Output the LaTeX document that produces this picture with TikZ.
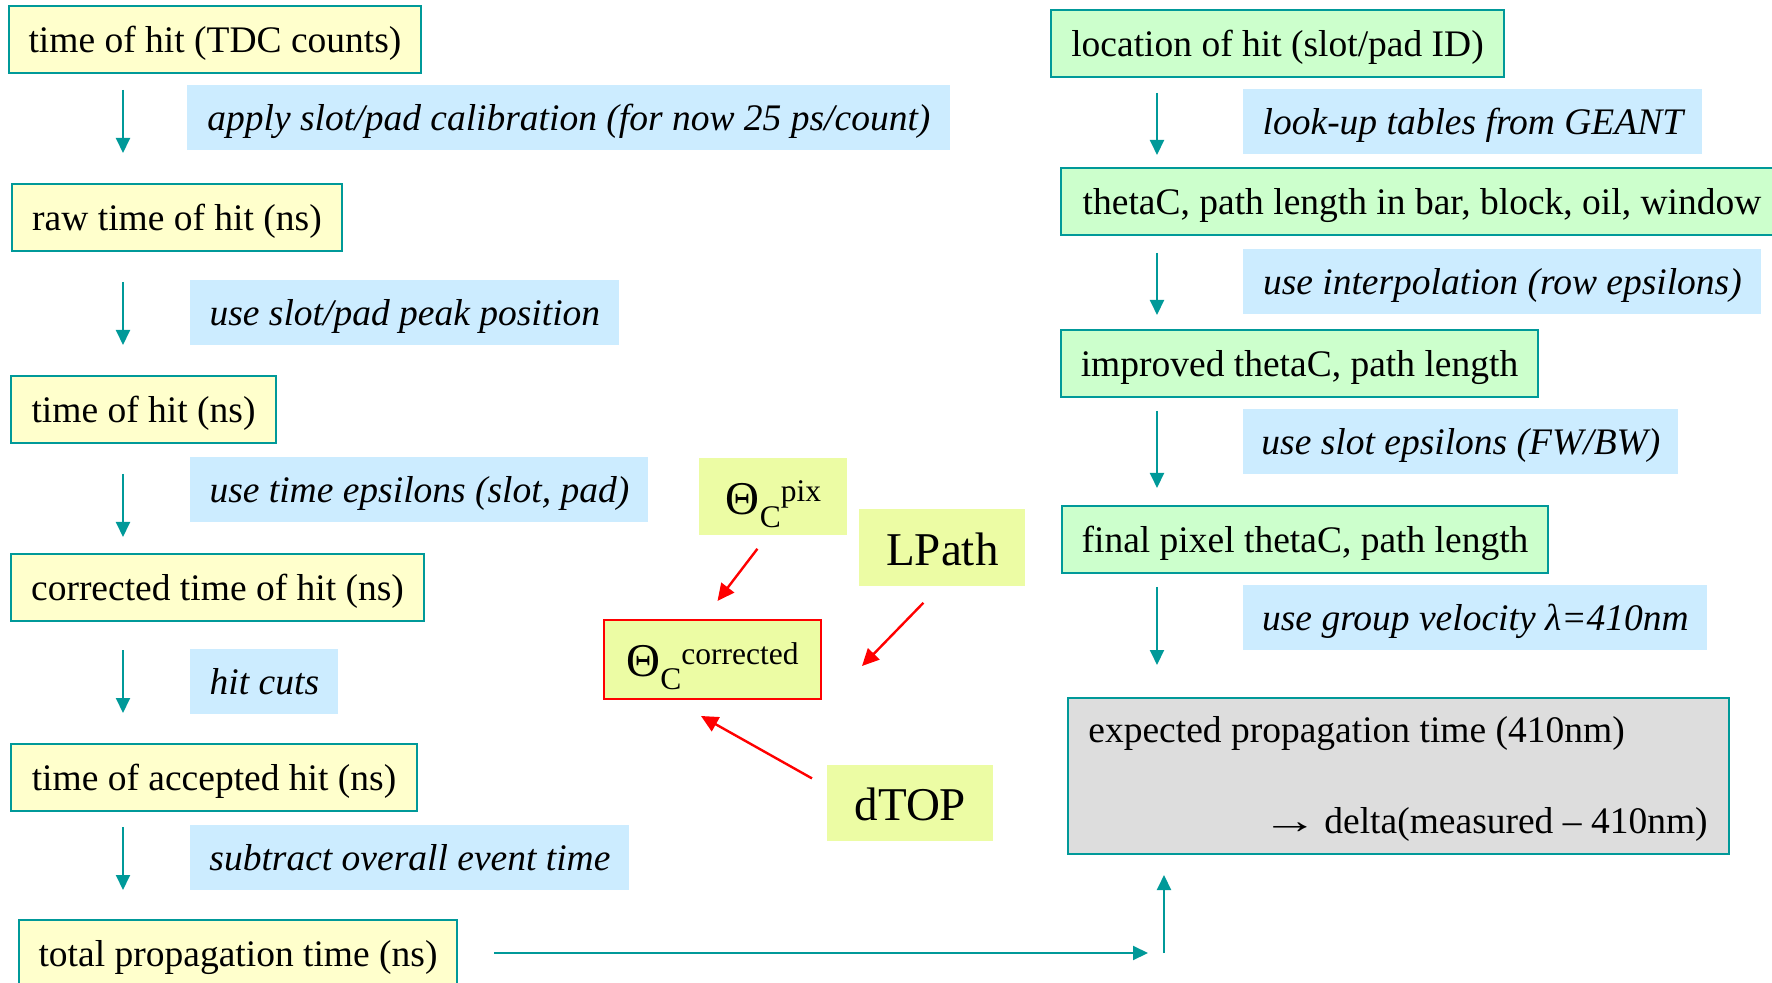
\documentclass[tikz,border=0pt]{standalone}
\usepackage{fontspec}
\setmainfont{Liberation Serif}
\usetikzlibrary{arrows.meta,calc}
\definecolor{tealc}{HTML}{009999}
\definecolor{yelc}{HTML}{FFFFCC}
\definecolor{grnc}{HTML}{CCFFCC}
\definecolor{bluc}{HTML}{CCECFF}
\definecolor{limec}{HTML}{ECFCA4}
\definecolor{grayc}{HTML}{DDDDDD}
\tikzset{
  stepbox/.style={draw=tealc, line width=1pt, anchor=north west, inner xsep=0pt, inner ysep=0pt,
    text height=23.25pt, text depth=10.25pt, font=\fontsize{18.75}{22}\selectfont},
  ybox/.style={stepbox, fill=yelc},
  gbox/.style={stepbox, fill=grnc},
  lbox/.style={fill=bluc, anchor=north west, inner xsep=0pt, inner ysep=0pt,
    text height=22.5pt, text depth=10pt, font=\fontsize{18.75}{22}\selectfont\itshape},
  mbox/.style={fill=limec, anchor=north west, inner xsep=0pt, inner ysep=0pt,
    text height=28pt, text depth=10.5pt, font=\fontsize{23.5}{28}\selectfont},
  tarrow/.style={draw=tealc, line width=1pt, -{Triangle[width=7pt,length=7.5pt]}},
  rarrow/.style={draw=red, line width=1.2pt, -{Triangle[width=8pt,length=8.5pt]}},
}
\newcommand\smalltx[1]{{\fontsize{15.75}{18}\selectfont #1}}
\begin{document}
\begin{tikzpicture}[x=0.5pt,y=-0.5pt]
\useasboundingbox (0,0) rectangle (1772,983);
% left column
\node[ybox, minimum width=206pt] (Y1) at (8,5) {time of hit (TDC counts)};
\node[ybox, minimum width=165pt] (Y2) at (11,183) {raw time of hit (ns)};
\node[ybox, minimum width=132.5pt] (Y3) at (10,375) {time of hit (ns)};
\node[ybox, minimum width=206.5pt] (Y4) at (10,553) {corrected time of hit (ns)};
\node[ybox, minimum width=203pt] (Y5) at (10,743) {time of accepted hit (ns)};
\node[ybox, minimum width=219pt] (Y6) at (18,919) {total propagation time (ns)};
\node[lbox, minimum width=381.5pt] (L1) at (187,85) {apply slot/pad calibration (for now 25 ps/count)};
\node[lbox, minimum width=214.5pt] (L2) at (190,280) {use slot/pad peak position};
\node[lbox, minimum width=229pt] (L3) at (190,457) {use time epsilons (slot, pad)};
\node[lbox, minimum width=74pt] (L4) at (190,649) {hit cuts};
\node[lbox, minimum width=219.5pt] (L5) at (190,825) {subtract overall event time};
\coordinate (lx) at (123,0);
\draw[tarrow] ($(Y1.south -| lx)+(0,16)$) -- ($(Y2.north -| lx)+(0,-30)$);
\draw[tarrow] ($(Y2.south -| lx)+(0,30)$) -- ($(Y3.north -| lx)+(0,-30)$);
\draw[tarrow] ($(Y3.south -| lx)+(0,30)$) -- ($(Y4.north -| lx)+(0,-16)$);
\draw[tarrow] ($(Y4.south -| lx)+(0,28)$) -- ($(Y5.north -| lx)+(0,-30)$);
\draw[tarrow] ($(Y5.south -| lx)+(0,15)$) -- ($(Y6.north -| lx)+(0,-29)$);
% right column
\node[gbox, minimum width=226.5pt] (R1) at (1050,9) {location of hit (slot/pad ID)};
\node[gbox, minimum width=361pt] (R2) at (1060,167) {thetaC, path length in bar, block, oil, window};
\node[gbox, minimum width=238.5pt] (R3) at (1060,329) {improved thetaC, path length};
\node[gbox, minimum width=243pt] (R4) at (1061,505) {final pixel thetaC, path length};
\node[lbox, minimum width=229.5pt] (LR1) at (1243,89) {look-up tables from GEANT};
\node[lbox, minimum width=259pt] (LR2) at (1243,249) {use interpolation (row epsilons)};
\node[lbox, minimum width=217.5pt] (LR3) at (1243,409) {use slot epsilons (FW/BW)};
\node[lbox, minimum width=232pt] (LR4) at (1243,585) {use group velocity λ=410nm};
\node[draw=tealc, fill=grayc, line width=1pt, anchor=north west, minimum width=330.5pt, minimum height=78pt, inner sep=0pt] (G) at (1067,697) {};
\node[anchor=base west, inner sep=0pt, font=\fontsize{18.75}{22}\selectfont] (G1) at ($(G.north west)+(21,45)$) {expected propagation time (410nm)};
\node[anchor=base east, inner sep=0pt, font=\fontsize{18.75}{22}\selectfont] (G2) at ($(G.north east)+(-22,136)$) {\scalebox{1.5}[1]{→}\,delta(measured – 410nm)};
\coordinate (rx) at (1157,0);
\draw[tarrow] ($(R1.south -| rx)+(0,15)$) -- ($(R2.north -| rx)+(0,-12)$);
\draw[tarrow] ($(R2.south -| rx)+(0,17)$) -- ($(R3.north -| rx)+(0,-14)$);
\draw[tarrow] ($(R3.south -| rx)+(0,13)$) -- ($(R4.north -| rx)+(0,-17)$);
\draw[tarrow] ($(R4.south -| rx)+(0,13)$) -- ($(G.north -| rx)+(0,-32)$);
% bottom connection
\coordinate (hend) at (1148,953);
\coordinate (vx) at (1164,953);
\draw[tarrow] ($(Y6.east |- hend)+(36,0)$) -- (hend);
\draw[tarrow] (vx) -- ($(G.south -| vx)+(0,20)$);
% middle
\node[mbox, minimum width=74pt, text height=28pt, text depth=10.5pt] (pix) at (699,458)
  {Θ\raisebox{-6.5pt}{\smalltx{C}}\raisebox{6.5pt}{\smalltx{pix}}};
\node[mbox, minimum width=83pt] (LP) at (859,509) {LPath};
\node[mbox, draw=red, line width=1pt, minimum width=108.5pt, text height=28pt, text depth=11.5pt] (corr) at (603,619)
  {Θ\raisebox{-6.5pt}{\smalltx{C}}\raisebox{6pt}{\smalltx{corrected}}};
\node[mbox, minimum width=83pt, text height=27.5pt, text depth=10.5pt] (dT) at (827,765) {dTOP};
\draw[rarrow] ($(pix.south)+(-16,13)$) -- ($(corr.north)+(5,-18)$);
\draw[rarrow] ($(LP.south)+(-19,16)$) -- ($(corr.east)+(40,6.5)$);
\draw[rarrow] ($(dT.west)+(-15,-25)$) -- ($(corr.south)+(-11.5,16)$);
\end{tikzpicture}
\end{document}
